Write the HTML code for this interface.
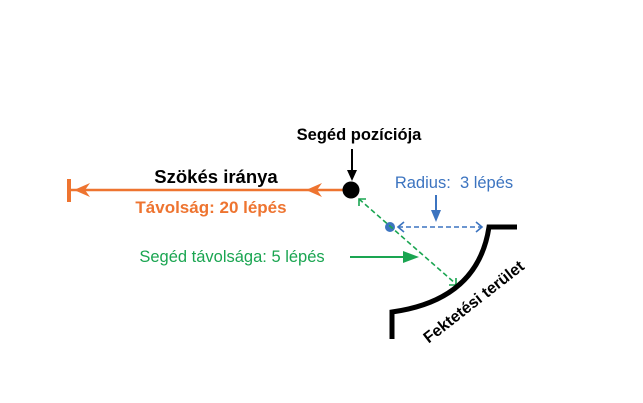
<!DOCTYPE html>
<html><head><meta charset="utf-8"><style>
body{margin:0;background:#fff;}
svg{display:block;font-family:"Liberation Sans",Arial,sans-serif;}
</style></head><body>
<svg width="643" height="403" viewBox="0 0 643 403">
<rect width="643" height="403" fill="#fff"/>
<!-- orange -->
<line x1="70" y1="190" x2="345" y2="190" stroke="#ee7430" stroke-width="2.5"/>
<rect x="67" y="179" width="4" height="23" fill="#ee7430"/>
<path d="M90 183 L74 190 L90 197 L85 190 Z" fill="#ee7430"/>
<path d="M322 183 L306 190 L322 197 L317 190 Z" fill="#ee7430"/>
<text x="216" y="183" text-anchor="middle" font-weight="bold" font-size="18.5" fill="#000">Szökés iránya</text>
<text x="211" y="213" text-anchor="middle" font-weight="bold" font-size="17" fill="#ee7430">Távolság: 20 lépés</text>
<!-- helper -->
<text x="359" y="140" text-anchor="middle" font-weight="bold" font-size="16.5" fill="#000">Segéd pozíciója</text>
<line x1="352" y1="149" x2="352" y2="174" stroke="#000" stroke-width="2"/>
<path d="M347 170 L352 181 L357 170 Z" fill="#000"/>
<circle cx="351" cy="190" r="8.5" fill="#000"/>
<!-- blue -->
<text x="454" y="188" text-anchor="middle" font-size="16.5" fill="#3c74c0" xml:space="preserve">Radius:  3 lépés</text>
<line x1="436" y1="195" x2="436" y2="214" stroke="#3c74c0" stroke-width="2"/>
<path d="M431 210 L436 222 L441 210 Z" fill="#3c74c0"/>
<circle cx="390" cy="227" r="5" fill="#3c74c0"/>
<line x1="398" y1="227" x2="481" y2="227" stroke="#3c74c0" stroke-width="1.6" stroke-dasharray="5,3"/>
<path d="M404 222 L398 227 L404 232" fill="none" stroke="#3c74c0" stroke-width="1.6"/>
<path d="M476 222 L482 227 L476 232" fill="none" stroke="#3c74c0" stroke-width="1.6"/>
<!-- green -->
<line x1="359" y1="199" x2="456" y2="284" stroke="#1aa551" stroke-width="1.6" stroke-dasharray="5,3"/>
<path d="M359 206 L359 199 L366 199" fill="none" stroke="#1aa551" stroke-width="1.6"/>
<path d="M449 285 L456 285 L456 278" fill="none" stroke="#1aa551" stroke-width="1.6"/>
<text x="232" y="262" text-anchor="middle" font-size="16.5" fill="#1aa551">Segéd távolsága: 5 lépés</text>
<line x1="350" y1="257" x2="408" y2="257" stroke="#1aa551" stroke-width="2"/>
<path d="M403 251 L419 257 L403 263 Z" fill="#1aa551"/>
<!-- black area -->
<path d="M517 227 L489 227 Q478 300 392 312 L392 339" fill="none" stroke="#000" stroke-width="5"/>
<text x="0" y="0" transform="translate(477,306) rotate(-38)" text-anchor="middle" font-weight="bold" font-size="16" fill="#000">Fektetési terület</text>
</svg>
</body></html>
